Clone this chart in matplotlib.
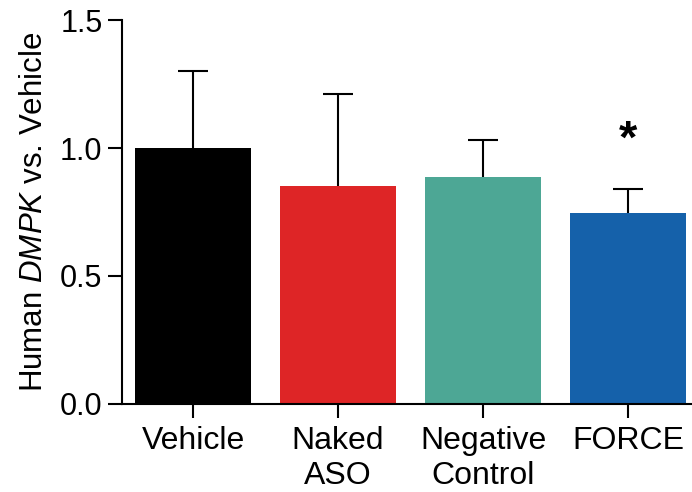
import matplotlib
matplotlib.use("Agg")
import matplotlib.pyplot as plt

plt.rcParams['font.family'] = ['Liberation Sans', 'DejaVu Sans']
plt.rcParams['mathtext.fontset'] = 'custom'
plt.rcParams['mathtext.rm'] = 'Liberation Sans'
plt.rcParams['mathtext.it'] = 'Liberation Sans:italic'

categories = ["Vehicle", "Naked\nASO", "Negative\nControl", "FORCE"]
means = [1.0, 0.853, 0.888, 0.748]
errors = [0.30, 0.357, 0.142, 0.090]
colors = ["#000000", "#DE2526", "#4DA795", "#1561AA"]
yticks = [0.0, 0.5, 1.0, 1.5]

fig = plt.figure(figsize=(6.92, 4.92), dpi=100)
ax = fig.add_axes([0.1763, 0.1789, 0.8237, 0.7804])

x = list(range(len(categories)))
ax.bar(x, means, width=0.8, color=colors, zorder=2)
eb = ax.errorbar(x, means, yerr=[[0]*len(errors), errors], fmt='none', ecolor='black',
                 elinewidth=1.5, capsize=10.5, capthick=1.5, zorder=1)
# hide the lower caps (only upper error shown)
eb[1][0].set_visible(False)

ax.text(3, 1.03, "*", ha='center', va='center', fontsize=34, fontweight='bold')

ax.set_xlim(-0.49, 3.44)
ax.set_ylim(0, 1.5)
ax.set_yticks(yticks)
ax.set_yticklabels([f"{v:.1f}" for v in yticks])
ax.set_xticks(x)
ax.set_xticklabels(categories, fontsize=23, linespacing=1.22)
ax.tick_params(axis='y', labelsize=22, length=10, width=1.5, direction='out', pad=4)
ax.tick_params(axis='x', length=10, width=1.5, direction='out', pad=6)
for s in ['top', 'right']:
    ax.spines[s].set_visible(False)
for s in ['left', 'bottom']:
    ax.spines[s].set_linewidth(1.5)

ax.set_ylabel("Human $\\mathit{DMPK}$ vs. Vehicle", fontsize=22.5, labelpad=8)

fig.savefig("out.png", dpi=100)
